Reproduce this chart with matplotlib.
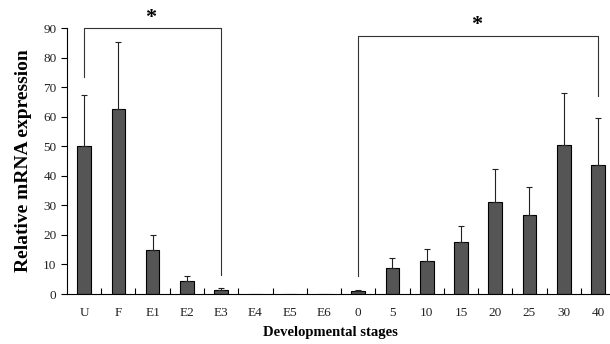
import numpy as np
import matplotlib.pyplot as plt

# Data
stages = ['U', 'F', 'E1', 'E2', 'E3', 'E4', 'E5', 'E6',
          '0', '5', '10', '15', '20', '25', '30', '40']
expression = [50.1, 62.7, 15.0, 4.4, 1.3, 0, 0, 0,
              1.0, 8.8, 11.1, 17.7, 31.2, 26.6, 50.4, 43.7]
error_upper = [17.1, 22.4, 5.0, 1.7, 0.7, 0, 0, 0,
               0.3, 3.3, 4.0, 5.4, 11.2, 9.6, 17.5, 15.9]

# significance brackets: (start stage, end stage, top, left leg end, right leg end)
bracket_left = ('U', 'E3', 90, 73.4, 6.4)
bracket_right = ('0', '40', 87.3, 6.2, 67.0)

plt.rcParams['font.family'] = ['Liberation Serif', 'DejaVu Serif']

fig = plt.figure(figsize=(6.10, 3.44), dpi=100)
ax = fig.add_axes([0.1098, 0.1453, 0.8902, 0.7733])

x = np.arange(len(stages))
yerr = np.vstack([np.zeros(len(stages)), error_upper])
mask = np.array(expression) > 0
ax.bar(x, expression, width=0.4, color='#555555', edgecolor='black', linewidth=0.8)
ax.errorbar(x[mask], np.array(expression)[mask], yerr=yerr[:, mask], fmt='none',
            ecolor='#222222', elinewidth=0.8, capsize=2.5, capthick=0.8)

ax.set_xlim(-0.5, 15.35)
ax.set_ylim(0, 90)
ax.set_yticks(range(0, 91, 10))
ax.set_xticks(x)
ax.set_xticklabels(stages)
ax.set_xticks(np.arange(0.5, 15, 1), minor=True)
ax.tick_params(axis='x', which='major', length=0, pad=9, labelsize=9.5, labelcolor='#222222')
ax.tick_params(axis='x', which='minor', direction='in', length=4, width=0.8)
ax.tick_params(axis='y', direction='out', length=4, width=0.8, labelsize=9.5,
               labelcolor='#222222')

for side in ['top', 'right']:
    ax.spines[side].set_visible(False)
for side in ['left', 'bottom']:
    ax.spines[side].set_linewidth(0.8)

ax.set_ylabel('Relative mRNA expression', fontsize=14, fontweight='bold', labelpad=8)
ax.set_xlabel('Developmental stages', fontsize=10.5, fontweight='bold')
ax.xaxis.set_label_coords(0.485, -0.12)

for (a, b, top, leg_a, leg_b), star_y in [(bracket_left, 93.3), (bracket_right, 91.0)]:
    xa, xb = stages.index(a), stages.index(b)
    ax.plot([xa, xa, xb, xb], [leg_a, top, top, leg_b], color='#333333',
            linewidth=0.8, clip_on=False)
    ax.text((xa + xb) / 2 - 0.05, star_y, '*', ha='center', va='center',
            fontsize=16, fontweight='bold', clip_on=False)

plt.savefig('out.png', dpi=100)
